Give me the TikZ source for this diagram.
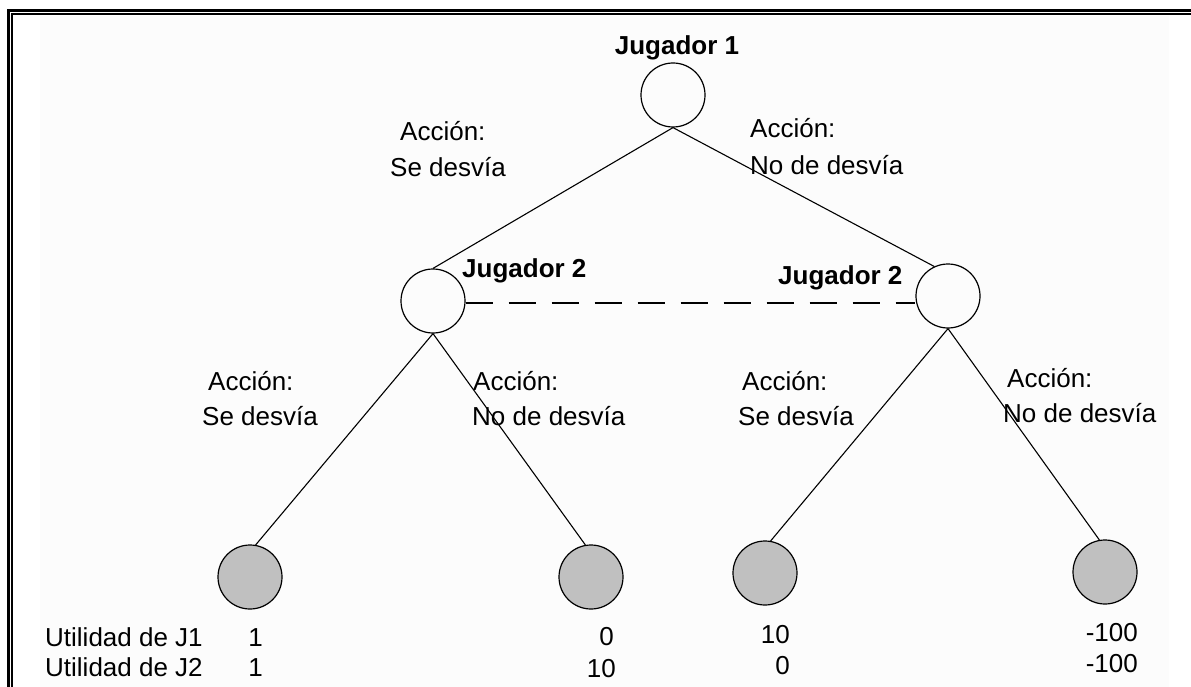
\documentclass[tikz,border=0pt]{standalone}
\usepackage{fontspec}
\setmainfont{Liberation Sans}
\definecolor{leafgray}{HTML}{C0C0C0}
\begin{document}
\begin{tikzpicture}[x=1pt,y=-1pt,
  choice/.style={circle,draw=black,line width=1.2pt,minimum size=64pt,inner sep=0pt},
  leaf/.style={choice,fill=leafgray},
  edge/.style={line width=1.1pt},
  txt/.style={inner sep=0pt,font=\fontsize{26}{30}\selectfont},
  player/.style={inner sep=0pt,font=\fontsize{26}{30}\selectfont\bfseries},
  lbl/.style={txt,anchor=base west},
  val/.style={txt,anchor=base east}]
\useasboundingbox (0,0) rectangle (1191,687);
% faint page tint inside the frame
\fill[black!1.2] (40,16) rectangle (1169,687);
% double frame on the left and top
\draw[line width=3pt,line join=miter] (8.5,687) -- (8.5,11) -- (1191,11);
\draw[line width=2pt,line join=miter] (12,687) -- (12,14.3) -- (1191,14.3);

% decision nodes
\node[choice] (j1) at (673,95) {};
\node[choice] (j2a) at (433,301) {};
\node[choice] (j2b) at (948,296) {};
% terminal nodes
\node[leaf] (t1) at (250,577) {};
\node[leaf] (t2) at (591,577) {};
\node[leaf] (t3) at (765,573) {};
\node[leaf] (t4) at (1105,572) {};

% player names
\node[player,anchor=base] (p1) at (677,55) {Jugador 1};
\node[player,anchor=base west] (p2a) at (462,277) {Jugador 2};
\node[player,anchor=base west] (p2b) at (778,284) {Jugador 2};

% branches
\draw[edge] (j1.south) -- (j2a.north);
\draw[edge] (j1.south) -- (j2b.115);
\draw[edge] (j2a.south) -- (t1.80);
\draw[edge] (j2a.south) -- (t2.100);
\draw[edge] (j2b.south) -- (t3.80);
\draw[edge] (j2b.south) -- (t4.100);
% information set
\coordinate (ia) at (j2a.east |- 0,303);
\coordinate (ib) at (j2b.west |- 0,303);
\draw[edge,dash pattern=on 27pt off 16pt] (ia) -- (ib);

% action labels
\node[lbl] (a1) at (400,141) {Acción:};
\node[lbl] (a1b) at (390,177) {Se desvía};
\node[lbl] (a2) at (750,138) {Acción:};
\node[lbl] (a2b) at (750,175) {No de desvía};
\node[lbl] (a3) at (208,390) {Acción:};
\node[lbl] (a3b) at (202,425) {Se desvía};
\node[lbl] (a4) at (473,390) {Acción:};
\node[lbl] (a4b) at (472,425) {No de desvía};
\node[lbl] (a5) at (742,390) {Acción:};
\node[lbl] (a5b) at (738,425) {Se desvía};
\node[lbl] (a6) at (1007,387) {Acción:};
\node[lbl] (a6b) at (1003,422) {No de desvía};

% payoffs
\node[lbl] (u1) at (45,646) {Utilidad de J1};
\node[lbl] (u2) at (45,676) {Utilidad de J2};
\node[val] (v11) at (263,646) {1};
\node[val] (v12) at (263,676) {1};
\node[val] (v21) at (614,645) {0};
\node[val] (v22) at (616,677) {10};
\node[val] (v31) at (790,643) {10};
\node[val] (v32) at (790,674) {0};
\node[val] (v41) at (1138,641) {-100};
\node[val] (v42) at (1138,672) {-100};
\end{tikzpicture}
\end{document}
